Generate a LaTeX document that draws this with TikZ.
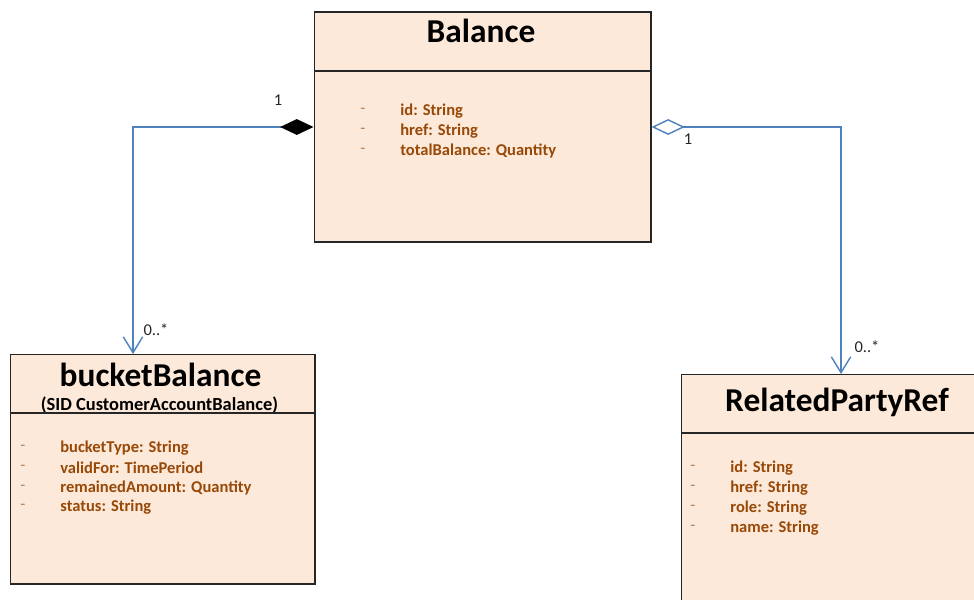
\documentclass[tikz,border=0pt]{standalone}
\usepackage{fontspec}
\setmainfont{Carlito}
\usetikzlibrary{arrows.meta}
\definecolor{boxfill}{RGB}{253,233,217}
\definecolor{attrtext}{RGB}{152,72,7}
\definecolor{linkblue}{RGB}{79,129,189}
\begin{document}
\begin{tikzpicture}[x=0.02cm, y=-0.02cm,
		classbox/.style={draw=black!85, fill=boxfill, line width=0.6pt, inner sep=0pt},
		title/.style={font=\bfseries\fontsize{19}{22}\selectfont},
		subtitle/.style={font=\bfseries\fontsize{10.5}{12}\selectfont},
		attr/.style={anchor=west, text=attrtext, font=\bfseries\fontsize{9.4}{11}\selectfont, inner sep=0pt},
		bullet/.style={anchor=west, text=attrtext!70, font=\fontsize{9.4}{11}\selectfont, inner sep=0pt},
		mult/.style={font=\fontsize{9.4}{11}\selectfont, text=black!85, inner sep=0pt},
		link/.style={draw=linkblue, line width=0.8pt},
		composed/.style={{Diamond[length=19pt, width=9pt, fill=black, color=black]}-{Straight Barb[length=9pt, width=11pt]}},
		shared/.style={{Diamond[open, length=19pt, width=9pt, fill=white]}-{Straight Barb[length=9pt, width=11pt]}}]
		\useasboundingbox (0,0) rectangle (974,599);
		\clip (0,0) rectangle (974,599);
		% Balance class
		\node[classbox, minimum width=6.74cm, minimum height=4.6cm] (bal) at (482.5,127) {};
		\node[title] (balT) at (481,31) {Balance};
		\draw[black!85, line width=0.6pt] (314,71) -- (651,71);
		\node[bullet] (balA1) at (360,111) {-};
		\node[bullet] (balA2) at (360,131) {-};
		\node[bullet] (balA3) at (360,151) {-};
		\node[attr] (balB1) at (400,111) {id: String};
		\node[attr] (balB2) at (400,131) {href: String};
		\node[attr] (balB3) at (400,151) {totalBalance: Quantity};
		% bucketBalance class
		\node[classbox, minimum width=6.1cm, minimum height=4.6cm] (bkt) at (162.5,469) {};
		\node[title] (bktT) at (160.5,375) {bucketBalance};
		\node[subtitle] (bktS) at (159.5,405) {(SID CustomerAccountBalance)};
		\draw[black!85, line width=0.6pt] (10,413) -- (315,413);
		\node[bullet] (bktA1) at (20,448) {-};
		\node[bullet] (bktA2) at (20,468) {-};
		\node[bullet] (bktA3) at (20,488) {-};
		\node[bullet] (bktA4) at (20,507) {-};
		\node[attr] (bktB1) at (60,448) {bucketType: String};
		\node[attr] (bktB2) at (60,468) {validFor: TimePeriod};
		\node[attr] (bktB3) at (60,488) {remainedAmount: Quantity};
		\node[attr] (bktB4) at (60,507) {status: String};
		% RelatedPartyRef class
		\node[classbox, minimum width=8cm, minimum height=5.2cm] (rel) at (881,504) {};
		\node[title] (relT) at (837,402) {RelatedPartyRef};
		\draw[black!85, line width=0.6pt] (681,433) -- (1081,433);
		\node[bullet] (relA1) at (690,468) {-};
		\node[bullet] (relA2) at (690,488) {-};
		\node[bullet] (relA3) at (690,508) {-};
		\node[bullet] (relA4) at (690,528) {-};
		\node[attr] (relB1) at (730,468) {id: String};
		\node[attr] (relB2) at (730,488) {href: String};
		\node[attr] (relB3) at (730,508) {role: String};
		\node[attr] (relB4) at (730,528) {name: String};
		% connections
		\coordinate (bktTop) at (133,354);
		\coordinate (relTop) at (841,374);
		\draw[link, composed] (bal.west) -| (bktTop);
		\draw[link, shared] (bal.east) -| (relTop);
		% multiplicities
		\node[mult] (m1) at (278,100) {1};
		\node[mult] (m2) at (156,330) {0..*};
		\node[mult] (m3) at (688,139) {1};
		\node[mult] (m4) at (867,347) {0..*};
	\end{tikzpicture}
\end{document}
